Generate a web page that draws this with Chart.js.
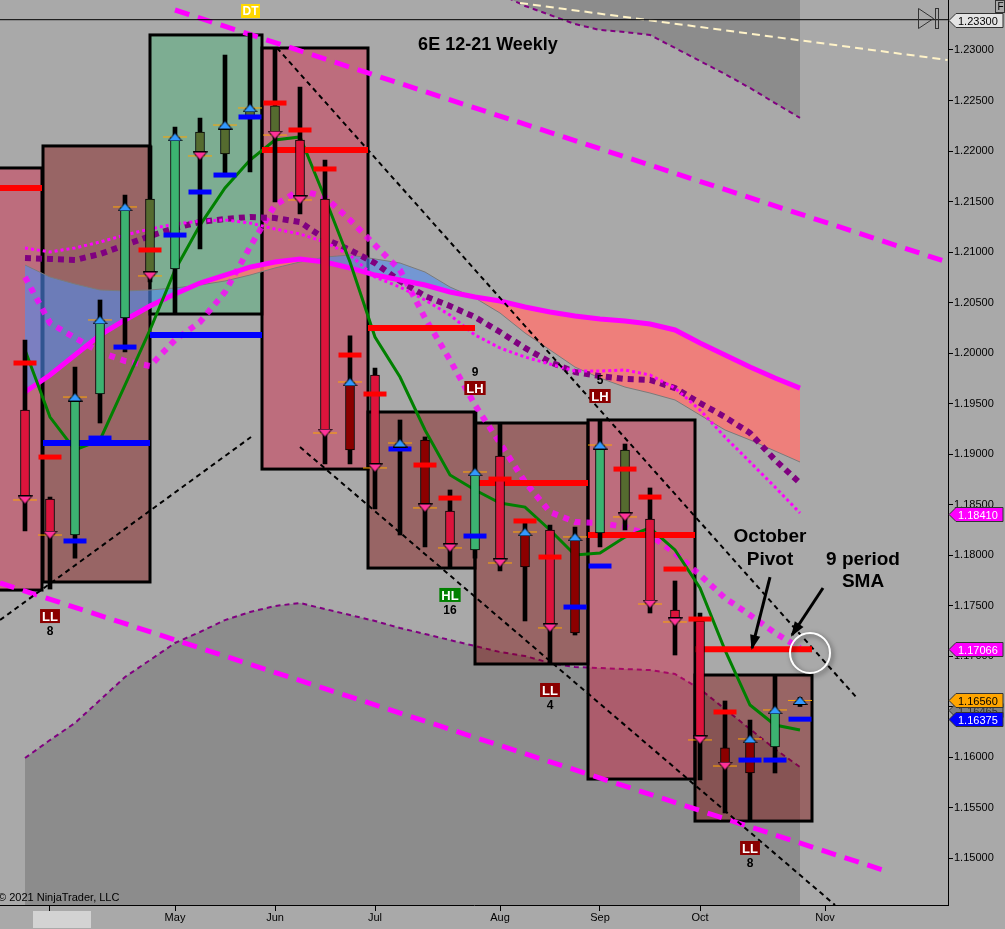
<!DOCTYPE html>
<html>
<head>
<meta charset="utf-8">
<script src="https://cdn.jsdelivr.net/npm/chart.js@4.4.0/dist/chart.umd.min.js"></script>
<style>
  html, body { margin: 0; padding: 0; background: #a9a9a9; }
  canvas { display: block; }
</style>
</head>
<body>
<canvas id="chart" width="1005" height="929"></canvas>
<script>
// 6E 12-21 weekly bars, index 0 = first visible week
const weeks = [0,1,2,3,4,5,6,7,8,9,10,11,12,13,14,15,16,17,18,19,20,21,22,23,24,25,26,27,28,29,30,31];
const opens  = [1.19436,1.18555,1.18198,1.19594,1.20347,1.21525,1.20832,1.22188,1.21970,1.22317,1.22446,1.22109,1.21525,1.19040,1.19782,1.19060,1.19139,1.18436,1.18050,1.18980,1.17882,1.18248,1.17228,1.18218,1.19040,1.18357,1.17456,1.17347,1.16090,1.15842,1.16100,1.16540];
const highs  = [1.20129,1.18574,1.19861,1.20525,1.21564,1.22050,1.22238,1.22327,1.22950,1.23168,1.23020,1.22634,1.21911,1.20169,1.19852,1.19337,1.19169,1.18644,1.19416,1.19307,1.18337,1.18297,1.18277,1.19337,1.19099,1.18664,1.17743,1.17426,1.16555,1.16366,1.16812,1.16590];
const lows   = [1.18238,1.17663,1.17970,1.19307,1.20010,1.20703,1.20396,1.21030,1.21772,1.21792,1.21495,1.21376,1.18901,1.18901,1.18456,1.18198,1.18080,1.17872,1.17970,1.17842,1.17347,1.16931,1.17208,1.18080,1.18248,1.17426,1.17010,1.15773,1.15446,1.15367,1.15842,1.16500];
const closes = [1.18545,1.18198,1.19564,1.20327,1.21446,1.20763,1.22139,1.21951,1.22257,1.22426,1.22158,1.21515,1.19208,1.19713,1.18862,1.19109,1.18466,1.18070,1.18822,1.17921,1.18228,1.17278,1.18179,1.19089,1.18377,1.17515,1.17337,1.16169,1.15911,1.16179,1.16466,1.16560];

// indicators
const sma9 = [1.20030,1.19366,1.19040,1.19139,1.19683,1.20228,1.20822,1.21267,1.21634,1.21911,1.22109,1.22139,1.21535,1.20901,1.20158,1.19762,1.19238,1.18792,1.18644,1.18515,1.18475,1.18248,1.18000,1.18020,1.18178,1.18267,1.18050,1.17673,1.17059,1.16515,1.16317,1.16267];
const emaLine = [1.19614,1.19782,1.19980,1.20178,1.20327,1.20465,1.20584,1.20693,1.20772,1.20851,1.20901,1.20931,1.20901,1.20842,1.20772,1.20723,1.20673,1.20604,1.20554,1.20515,1.20455,1.20406,1.20366,1.20337,1.20317,1.20287,1.20228,1.20099,1.19980,1.19861,1.19752,1.19653];
const cloudSpan = [1.20871,1.20752,1.20683,1.20624,1.20614,1.20624,1.20644,1.20673,1.20713,1.20772,1.20842,1.20901,1.20950,1.20970,1.20931,1.20891,1.20802,1.20653,1.20545,1.20396,1.20198,1.20030,1.19861,1.19752,1.19663,1.19604,1.19535,1.19386,1.19238,1.19139,1.19030,1.18921];
const purpleDots = [1.20941,1.20931,1.20921,1.20980,1.21069,1.21158,1.21238,1.21297,1.21327,1.21347,1.21337,1.21297,1.21129,1.21020,1.20891,1.20713,1.20564,1.20465,1.20356,1.20208,1.20050,1.19911,1.19812,1.19772,1.19743,1.19733,1.19653,1.19505,1.19366,1.19208,1.18941,1.18713];
const fineDots = [1.21040,1.21000,1.21040,1.21099,1.21168,1.21228,1.21277,1.21307,1.21317,1.21287,1.21228,1.21178,1.21099,1.20970,1.20752,1.20653,1.20525,1.20376,1.20178,1.20050,1.19960,1.19891,1.19822,1.19822,1.19832,1.19782,1.19653,1.19436,1.19168,1.18921,1.18673,1.18416];
const bigDots = [1.20752,1.20297,1.20149,1.20010,1.19921,1.19871,1.20129,1.20307,1.20604,1.21050,1.21465,1.21614,1.21545,1.21317,1.21069,1.20822,1.20347,1.19931,1.19485,1.19109,1.18723,1.18426,1.18327,1.18317,1.18277,1.18198,1.18020,1.17802,1.17574,1.17406,1.17228,1.17079];
const lowerBand = [1.15990,1.16168,1.16337,1.16564,1.16792,1.16960,1.17129,1.17238,1.17356,1.17436,1.17495,1.17525,1.17465,1.17406,1.17347,1.17277,1.17218,1.17158,1.17099,1.17040,1.17000,1.16931,1.16891,1.16881,1.16871,1.16861,1.16822,1.16673,1.16475,1.16277,1.16079,1.15901];
const upperBand = [null,null,null,null,null,null,null,null,null,null,null,null,null,null,null,null,null,null,null,1.23554,1.23436,1.23347,1.23257,1.23198,1.23178,1.23149,1.23020,1.22891,1.22762,1.22624,1.22475,1.22327];

// stop markers per bar
const redMarks = [1.19901,1.18970,null,null,null,1.21020,null,null,null,null,1.22475,1.22208,1.21822,1.19980,1.19594,null,1.18891,1.18564,null,1.18752,1.18337,1.17980,null,null,1.18851,1.18574,1.17861,1.17366,1.16446,null,null,null];
const blueMarks = [null,null,1.18139,1.19158,1.20059,null,1.21168,1.21594,1.21762,1.22337,null,null,null,null,null,1.19050,null,null,1.18188,null,null,null,1.17485,1.17891,null,null,null,null,null,1.15970,1.15970,1.16375];

// monthly ranges and pivots
const monthStart = [-1.5, 0.72, 5, 9.48, 13.72, 18, 22.52, 26.8];
const monthEnd   = [0.68, 5, 9.48, 13.72, 18, 22.52, 26.8, 31.48];
const monthHigh  = [1.21832, 1.22050, 1.23149, 1.23020, 1.19416, 1.19307, 1.19337, 1.16812];
const monthLow   = [1.17653, 1.17733, 1.20386, 1.18851, 1.17871, 1.16921, 1.15782, 1.15366];
const monthPivot = [1.21634, 1.19109, 1.20178, 1.22010, 1.20248, 1.18713, 1.18198, 1.17066];

// swing labels
const swingBars = [1, 17, 18, 21, 23, 29];
const swingTypes = ['LL', 'HL', 'LH', 'LL', 'LH', 'LL'];
const swingCounts = [8, 16, 9, 4, 5, 8];

// drawn trend lines [x1, y1, x2, y2] in week / price
const magentaLines = [[6, 1.23396, 36.88, 1.20901], [-1, 1.17723, 34.32, 1.14881]];
const blackLines = [[10.08, 1.23020, 33.28, 1.16584], [11, 1.19069, 32.4, 1.14535], [-1, 1.17356, 9.04, 1.19168]];
const creamLine = [19.8, 1.23465, 36.9, 1.22901];
const topLine = 1.23300;

// axis ticks
const yTicks = [1.15, 1.155, 1.16, 1.165, 1.17, 1.175, 1.18, 1.185, 1.19, 1.195, 1.20, 1.205, 1.21, 1.215, 1.22, 1.225, 1.23];
const monthTicks = [1, 6, 10, 14, 19, 23, 27, 32];
const monthLabels = ['', 'May', 'Jun', 'Jul', 'Aug', 'Sep', 'Oct', 'Nov'];

// right-hand price flags
const flagPrices = [1.23300, 1.18410, 1.17066, 1.16465, 1.16560, 1.16375];
const flagFill = ['#e4e4e4', '#ff00ff', '#ff00ff', '#808080', '#ffa500', '#0000ff'];
const flagText = ['#000', '#fff', '#fff', '#333', '#000', '#fff'];

// styles
const CR = '#dc143c', GR = '#3cb371', OL = '#556b2f', MR = '#8b0000';
const bodyColors = [CR,CR,GR,GR,GR,OL,GR,OL,OL,OL,OL,CR,CR,MR,CR,MR,MR,CR,GR,CR,MR,CR,MR,GR,OL,CR,CR,CR,MR,MR,GR,GR];
const PINK = 'rgba(220,20,60,0.4)', BROWN = 'rgba(128,0,0,0.4)', GREENBOX = 'rgba(60,179,113,0.4)';
const boxColors = [PINK, BROWN, GREENBOX, PINK, BROWN, BROWN, PINK, BROWN];
const pivotColors = ['#ff0000', '#0000ff', '#0000ff', '#ff0000', '#ff0000', '#ff0000', '#ff0000', '#ff0000'];

const FONT = '"Liberation Sans", Arial, sans-serif';
Chart.defaults.font.family = FONT;

function series(vals) {
  return vals.map((v, i) => ({x: weeks[i], y: v}));
}
function segment(l) {
  return [{x: l[0], y: l[1]}, {x: l[2], y: l[3]}];
}
function pivotData(color) {
  const out = [];
  monthPivot.forEach((p, i) => {
    if (pivotColors[i] !== color) return;
    out.push({x: monthStart[i], y: p}, {x: monthEnd[i], y: p}, {x: monthEnd[i], y: null});
  });
  return out;
}
function makeTriangle(up, fill) {
  const c = document.createElement('canvas');
  c.width = 15; c.height = 9;
  const g = c.getContext('2d');
  g.beginPath();
  if (up) { g.moveTo(7.5, 0.5); g.lineTo(14.5, 8.5); g.lineTo(0.5, 8.5); }
  else { g.moveTo(0.5, 0.5); g.lineTo(14.5, 0.5); g.lineTo(7.5, 8.5); }
  g.closePath();
  g.fillStyle = fill; g.fill();
  g.strokeStyle = '#000'; g.lineWidth = 1; g.stroke();
  return c;
}
const triUp = makeTriangle(true, '#3399ff');
const triDown = makeTriangle(false, '#ff3399');

const line = (extra) => Object.assign({type: 'line', pointRadius: 0, fill: false, tension: 0}, extra);

const datasets = [
  line({id: 'upperBand', data: series(upperBand), borderColor: '#800080', borderWidth: 2, borderDash: [5, 4],
        fill: 'end', backgroundColor: '#8c8c8c', order: 100}),
  line({id: 'lowerBand', data: series(lowerBand), borderColor: '#800080', borderWidth: 2, borderDash: [5, 4],
        fill: 'start', backgroundColor: '#8c8c8c', order: 99}),
  line({id: 'cloud', data: series(cloudSpan), borderColor: '#7a7a7a', borderWidth: 1,
        fill: {target: '+1', above: 'rgba(80,140,240,0.6)', below: 'rgba(250,120,115,0.85)'}, order: 90}),
  line({id: 'ema', data: series(emaLine), borderColor: '#ff00ff', borderWidth: 5, order: 50}),
  line({data: series(bigDots), borderColor: 'rgba(255,0,255,0.8)', borderWidth: 6, borderDash: [6, 6], order: 60}),
  line({data: series(purpleDots), borderColor: '#800080', borderWidth: 6, borderDash: [6, 5], order: 58}),
  line({data: series(fineDots), borderColor: '#ff00ff', borderWidth: 3, borderDash: [3, 3], order: 57}),
  line({data: series(sma9), borderColor: '#008000', borderWidth: 3, order: 40}),
  line({data: segment(creamLine), borderColor: '#fff3c8', borderWidth: 2, borderDash: [8, 5], order: 35}),
  ...magentaLines.map(l => line({data: segment(l), borderColor: '#ff00ff', borderWidth: 5, borderDash: [15, 9], order: 32})),
  ...blackLines.map(l => line({data: segment(l), borderColor: '#000', borderWidth: 2, borderDash: [5, 4], order: 30})),
  line({data: [{x: -1, y: topLine}, {x: 36.92, y: topLine}], borderColor: '#000', borderWidth: 1, order: 25}),
  line({data: pivotData('#ff0000'), borderColor: '#ff0000', borderWidth: 6, order: 20}),
  line({data: pivotData('#0000ff'), borderColor: '#0000ff', borderWidth: 6, order: 20}),
  {type: 'bar', data: weeks.map((w, i) => ({x: w, y: [lows[i], highs[i]]})), backgroundColor: '#000',
   barThickness: 4, grouped: false, borderWidth: 0, order: 10},
  {type: 'bar', data: weeks.map((w, i) => ({x: w, y: [opens[i], closes[i]]})), backgroundColor: bodyColors,
   borderColor: '#000', borderWidth: 1, borderSkipped: false, barThickness: 9, grouped: false, order: 9},
  {type: 'scatter', data: series(redMarks), pointStyle: 'line', pointRadius: 11.5, pointBorderColor: '#ff0000',
   pointBorderWidth: 5, order: 8},
  {type: 'scatter', data: series(blueMarks), pointStyle: 'line', pointRadius: 11.5, pointBorderColor: '#0000ff',
   pointBorderWidth: 5, order: 8},
  {type: 'scatter', data: series(closes), pointStyle: 'line', pointRadius: 12, pointBorderColor: '#ffa500',
   pointBorderWidth: 1, order: 7},
  {type: 'scatter', data: weeks.filter((w, i) => closes[i] > opens[i]).map(w => ({x: w, y: closes[w]})),
   pointStyle: triUp, pointRadius: 5, order: 6},
  {type: 'scatter', data: weeks.filter((w, i) => closes[i] <= opens[i]).map(w => ({x: w, y: closes[w]})),
   pointStyle: triDown, pointRadius: 5, order: 6}
];

function arrow(ctx, x1, y1, x2, y2) {
  ctx.beginPath(); ctx.moveTo(x1, y1); ctx.lineTo(x2, y2);
  ctx.lineWidth = 3; ctx.strokeStyle = '#000'; ctx.stroke();
  const a = Math.atan2(y2 - y1, x2 - x1);
  ctx.beginPath();
  ctx.moveTo(x2 + 2 * Math.cos(a), y2 + 2 * Math.sin(a));
  ctx.lineTo(x2 - 14 * Math.cos(a - 0.38), y2 - 14 * Math.sin(a - 0.38));
  ctx.lineTo(x2 - 14 * Math.cos(a + 0.38), y2 - 14 * Math.sin(a + 0.38));
  ctx.closePath(); ctx.fillStyle = '#000'; ctx.fill();
}

function noPadding(ax) {
  ax.paddingLeft = 0; ax.paddingRight = 0; ax.paddingTop = 0; ax.paddingBottom = 0;
}

const overlay = {
  id: 'overlay',
  afterDatasetDraw(chart, args) {
    // monthly range boxes sit above the gray bands, below the cloud
    if (chart.data.datasets[args.index].id !== 'lowerBand') return;
    const {ctx, chartArea: a, scales: {x, y}} = chart;
    ctx.save();
    ctx.beginPath(); ctx.rect(a.left, a.top, a.right - a.left, a.bottom - a.top); ctx.clip();
    monthStart.forEach((s, i) => {
      const x1 = x.getPixelForValue(s), x2 = x.getPixelForValue(monthEnd[i]);
      const y1 = y.getPixelForValue(monthHigh[i]), y2 = y.getPixelForValue(monthLow[i]);
      ctx.fillStyle = boxColors[i];
      ctx.fillRect(x1, y1, x2 - x1, y2 - y1);
      ctx.lineWidth = 3; ctx.strokeStyle = '#000';
      ctx.strokeRect(x1, y1, x2 - x1, y2 - y1);
    });
    ctx.restore();
  },
  afterDatasetsDraw(chart) {
    const {ctx, chartArea: a, scales: {x, y}} = chart;
    const P = (xv, yv) => [x.getPixelForValue(xv), y.getPixelForValue(yv)];
    ctx.save();
    ctx.textAlign = 'center'; ctx.textBaseline = 'middle';

    // swing labels
    swingBars.forEach((b, k) => {
      const px = x.getPixelForValue(weeks[b]);
      const below = swingTypes[k] !== 'LH';
      const base = below ? y.getPixelForValue(lows[b]) : y.getPixelForValue(highs[b]);
      const boxY = below ? base + 27 : base - 24;
      const numY = below ? base + 43 : base - 39;
      ctx.font = 'bold 13px ' + FONT;
      const w = ctx.measureText(swingTypes[k]).width + 4;
      ctx.fillStyle = swingTypes[k] === 'HL' ? '#008000' : '#8b0000';
      ctx.fillRect(px - w / 2, boxY - 7, w, 14);
      ctx.fillStyle = '#fff';
      ctx.fillText(swingTypes[k], px, boxY + 1);
      ctx.fillStyle = '#000'; ctx.font = 'bold 12px ' + FONT;
      ctx.fillText(String(swingCounts[k]), px, numY);
    });

    // DT marker pinned to top above week 9
    const dtx = x.getPixelForValue(weeks[9]);
    ctx.fillStyle = '#ffd700'; ctx.fillRect(dtx - 9, a.top + 4, 19, 14);
    ctx.fillStyle = '#fff'; ctx.font = 'bold 12px ' + FONT;
    ctx.fillText('DT', dtx + 0.5, a.top + 11.5);

    // title
    ctx.fillStyle = '#000'; ctx.font = 'bold 18px ' + FONT;
    ctx.fillText('6E 12-21 Weekly', 488, a.top + 45);

    // notes
    ctx.font = 'bold 19px ' + FONT;
    let p = P(29.8, 1.18178); ctx.fillText('October', p[0], p[1]);
    p = P(29.8, 1.17950); ctx.fillText('Pivot', p[0], p[1]);
    p = P(33.52, 1.17950); ctx.fillText('9 period', p[0], p[1]);
    p = P(33.52, 1.17733); ctx.fillText('SMA', p[0], p[1]);
    let s = P(29.8, 1.17782), e = P(29.08, 1.17079);
    arrow(ctx, s[0], s[1], e[0], e[1]);
    s = P(31.92, 1.17673); e = P(30.68, 1.17208);
    arrow(ctx, s[0], s[1], e[0], e[1]);

    // highlight circle
    const c = P(31.4, 1.17030);
    ctx.shadowColor = 'rgba(0,0,0,0.55)'; ctx.shadowBlur = 5; ctx.shadowOffsetX = 2; ctx.shadowOffsetY = 2;
    ctx.beginPath(); ctx.arc(c[0], c[1], 20, 0, Math.PI * 2);
    ctx.strokeStyle = '#fff'; ctx.lineWidth = 2; ctx.stroke();
    ctx.shadowColor = 'transparent';

    // copyright
    ctx.textAlign = 'left'; ctx.textBaseline = 'alphabetic';
    ctx.fillStyle = '#000'; ctx.font = '11px ' + FONT;
    ctx.fillText('\u00a9 2021 NinjaTrader, LLC', a.left - 2, a.bottom - 4);
    ctx.restore();
  },
  afterDraw(chart) {
    const {ctx, chartArea: a, scales: {y}} = chart;
    ctx.save();
    // price flags on the axis
    flagPrices.forEach((pr, i) => {
      const py = Math.round(y.getPixelForValue(pr)) + 0.5;
      const x0 = a.right + 1;
      ctx.beginPath();
      ctx.moveTo(x0, py); ctx.lineTo(x0 + 7, py - 7); ctx.lineTo(1003, py - 7);
      ctx.lineTo(1003, py + 7); ctx.lineTo(x0 + 7, py + 7); ctx.closePath();
      ctx.fillStyle = flagFill[i]; ctx.fill();
      ctx.strokeStyle = '#333'; ctx.lineWidth = 1; ctx.stroke();
      ctx.fillStyle = flagText[i]; ctx.font = '11px ' + FONT;
      ctx.textAlign = 'left'; ctx.textBaseline = 'middle';
      ctx.fillText(pr.toFixed(5), x0 + 9, py + 1);
    });
    // scroll thumb under the first month tick
    ctx.fillStyle = '#d3d3d3'; ctx.fillRect(33, a.bottom + 6, 58, 17);
    // top-right toolbar glyphs
    ctx.strokeStyle = '#333'; ctx.lineWidth = 1;
    ctx.beginPath(); ctx.moveTo(918.5, 8.5); ctx.lineTo(933.5, 18.5); ctx.lineTo(918.5, 28.5); ctx.closePath(); ctx.stroke();
    ctx.strokeRect(935.5, 8.5, 3, 20);
    ctx.strokeRect(995.5, 0.5, 9, 12);
    ctx.fillStyle = '#000'; ctx.font = '10px ' + FONT; ctx.textAlign = 'center'; ctx.textBaseline = 'middle';
    ctx.fillText('F', 1000.5, 7);
    ctx.restore();
  }
};

new Chart(document.getElementById('chart'), {
  type: 'bar',
  data: {datasets},
  options: {
    responsive: false,
    devicePixelRatio: 1,
    animation: false,
    layout: {padding: 0, autoPadding: false},
    plugins: {legend: {display: false}, tooltip: {enabled: false}, title: {display: false}},
    scales: {
      x: {
        type: 'linear', min: -1, max: 36.92, offset: false, position: 'bottom',
        afterBuildTicks: ax => { ax.ticks = monthTicks.map(v => ({value: v})); },
        afterFit: ax => { ax.height = 24; noPadding(ax); },
        ticks: {autoSkip: false, maxRotation: 0, padding: 0, color: '#000', font: {size: 11},
                callback: v => monthLabels[monthTicks.indexOf(v)] || ''},
        grid: {offset: false, drawOnChartArea: false, drawTicks: true, tickLength: 6, color: '#000'},
        border: {display: true, color: '#000', width: 1}
      },
      y: {
        type: 'linear', position: 'right', min: 1.14535, max: 1.23495,
        afterBuildTicks: ax => { ax.ticks = yTicks.map(v => ({value: v})); },
        afterFit: ax => { ax.width = 57; noPadding(ax); },
        ticks: {padding: 1, color: '#000', font: {size: 11}, callback: v => v.toFixed(5)},
        grid: {offset: false, drawOnChartArea: false, drawTicks: true, tickLength: 5, color: '#000'},
        border: {display: true, color: '#000', width: 1}
      }
    }
  },
  plugins: [overlay]
});
</script>
</body>
</html>
